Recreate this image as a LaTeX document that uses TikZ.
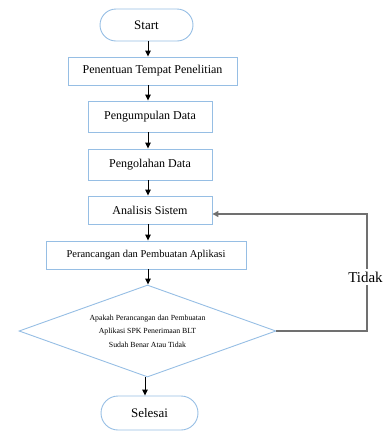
\documentclass[tikz,border=0pt]{standalone}
\usepackage{fontspec}
\setmainfont{Liberation Serif}
\usetikzlibrary{arrows.meta,shapes.geometric}
\definecolor{boxblue}{RGB}{150,190,228}
\definecolor{fbgray}{RGB}{112,112,112}
\tikzset{
  procbox/.style={draw=boxblue, line width=0.9pt, rectangle, inner sep=0pt, align=center, font=\fontsize{12}{14}\selectfont},
  termbox/.style={draw=boxblue, line width=0.9pt, rectangle, inner sep=0pt, align=center, font=\fontsize{13}{15}\selectfont},
  decbox/.style={draw=boxblue, line width=0.9pt, diamond, aspect=2.79, inner sep=0pt, align=center, font=\fontsize{7.8}{13.5}\selectfont},
  flow/.style={draw=black, line width=0.9pt, -{Triangle[width=5.5pt,length=6pt]}},
  back/.style={draw=fbgray, line width=1.3pt, -{Triangle[width=6pt,length=6pt]}}
}
\begin{document}
\begin{tikzpicture}[x=1pt,y=-1pt]
\useasboundingbox (0,0) rectangle (385,432);
\node[termbox, minimum width=93pt, minimum height=32pt, rounded corners=16pt] (start) at (146.5,25) {Start};
\node[procbox, minimum width=169pt, minimum height=28pt] (b1) at (152.5,71) {Penentuan Tempat Penelitian};
\node[procbox, minimum width=124pt, minimum height=31pt] (b2) at (150,116.5) {Pengumpulan Data};
\node[procbox, minimum width=124pt, minimum height=31pt] (b3) at (150,164.5) {Pengolahan Data};
\node[procbox, minimum width=124pt, minimum height=28pt] (b4) at (150,210) {Analisis Sistem};
\node[procbox, minimum width=200pt, minimum height=28pt, font=\fontsize{10.5}{12}\selectfont] (b5) at (146,255) {Perancangan dan Pembuatan Aplikasi};
\node[decbox, minimum width=257pt, minimum height=92pt] (dia) at (147.5,331) {Apakah Perancangan dan Pembuatan\\Aplikasi SPK Penerimaan BLT\\Sudah Benar Atau Tidak};
\node[termbox, minimum width=97pt, minimum height=34pt, rounded corners=17pt] (end) at (149.5,413) {Selesai};
\coordinate (fb) at (367,214);
\draw[flow] (start.south -| 148,0) -- (b1.north -| 148,0);
\draw[flow] (b1.south -| 148,0) -- (b2.north -| 148,0);
\draw[flow] (b2.south -| 148,0) -- (b3.north -| 148,0);
\draw[flow] (b3.south -| 148,0) -- (b4.north -| 148,0);
\draw[flow] (b4.south -| 148,0) -- (b5.north -| 148,0);
\draw[flow] (b5.south -| 148,0) -- (dia.north -| 148,0);
\draw[flow] (dia.south -| 145,0) -- (end.north -| 145,0);
\draw[back] (dia.east) -| (fb) -- (b4.east |- fb);
\node[font=\fontsize{15}{17}\selectfont, fill=white, inner xsep=0pt, inner ysep=3pt] (tidak) at (365.5,277) {Tidak};
\end{tikzpicture}
\end{document}
